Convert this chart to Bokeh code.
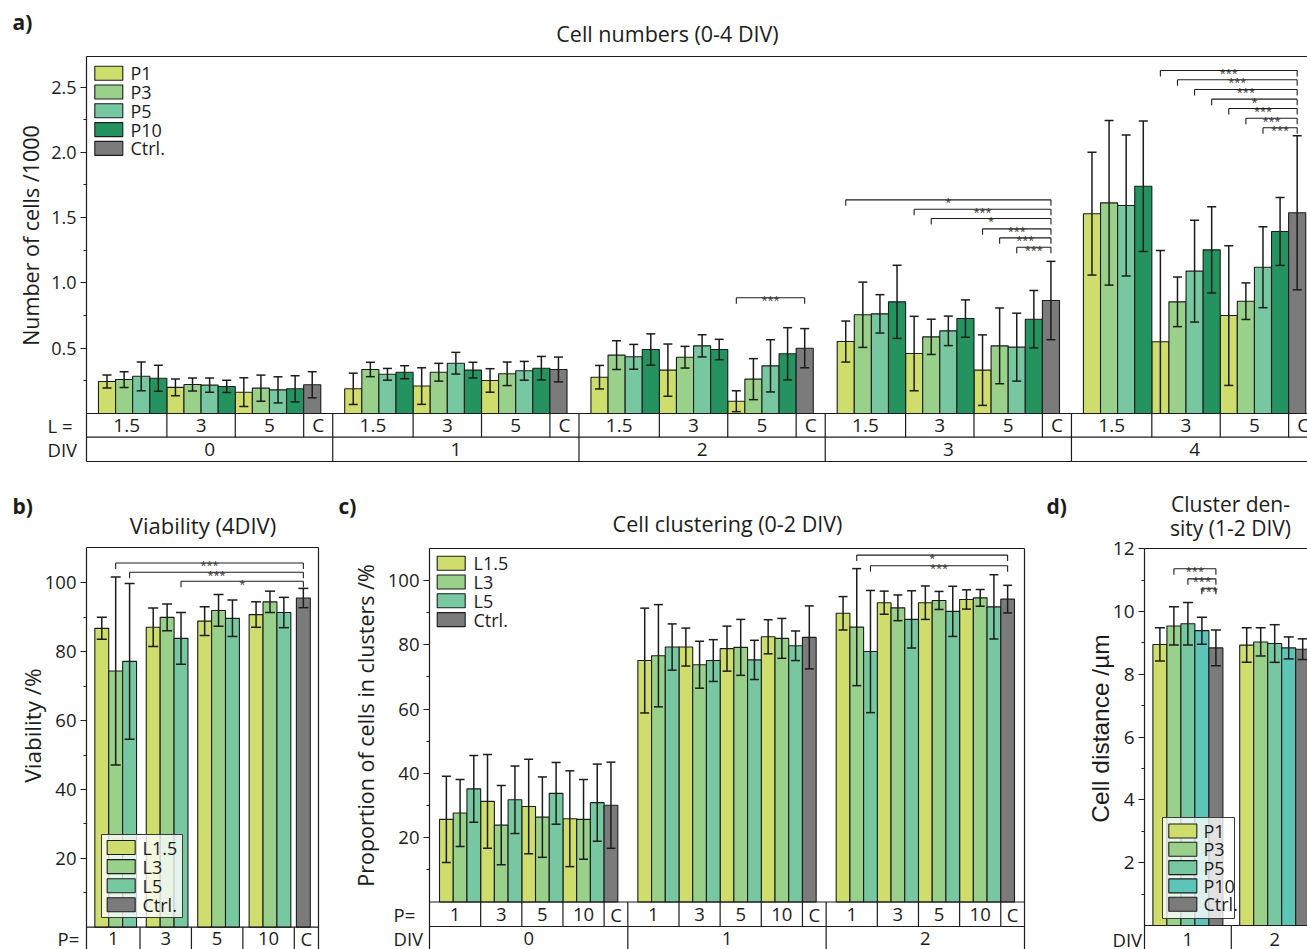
import math
from bokeh.plotting import figure
from bokeh.models import FixedTicker, PrintfTickFormatter, Label
from bokeh.layouts import column, row
from bokeh.embed import file_html
from bokeh.resources import INLINE
from bokeh.core.properties import value

# ======================= DATA =======================
# a) Cell numbers (0-4 DIV); each list: DIV 0..4, inside each DIV L = 1.5, 3, 5
A_DIV = ["0", "1", "2", "3", "4"]
A_L = ["1.5", "3", "5", "C"]
A_NAMES = ["P1", "P3", "P5", "P10", "Ctrl."]
A_P1 = [0.245, 0.200, 0.163, 0.189, 0.210, 0.253, 0.278, 0.332, 0.094, 0.551, 0.459, 0.332, 1.530, 0.549, 0.750]
A_P1_ERR = [0.050, 0.065, 0.110, 0.120, 0.140, 0.090, 0.090, 0.200, 0.080, 0.157, 0.285, 0.270, 0.470, 0.700, 0.535]
A_P3 = [0.260, 0.222, 0.194, 0.337, 0.316, 0.304, 0.447, 0.431, 0.263, 0.756, 0.587, 0.518, 1.613, 0.855, 0.860]
A_P3_ERR = [0.060, 0.050, 0.100, 0.055, 0.068, 0.090, 0.110, 0.083, 0.157, 0.250, 0.135, 0.290, 0.630, 0.190, 0.140]
A_P5 = [0.285, 0.217, 0.181, 0.300, 0.385, 0.327, 0.434, 0.518, 0.365, 0.763, 0.633, 0.508, 1.593, 1.090, 1.120]
A_P5_ERR = [0.110, 0.055, 0.100, 0.045, 0.083, 0.072, 0.095, 0.085, 0.200, 0.147, 0.113, 0.260, 0.540, 0.390, 0.310]
A_P10 = [0.270, 0.207, 0.189, 0.316, 0.332, 0.347, 0.490, 0.490, 0.457, 0.855, 0.727, 0.722, 1.740, 1.253, 1.394]
A_P10_ERR = [0.100, 0.047, 0.100, 0.050, 0.060, 0.090, 0.120, 0.078, 0.200, 0.280, 0.143, 0.220, 0.500, 0.330, 0.260]
A_CTRL = [0.220, 0.337, 0.500, 0.865, 1.537]
A_CTRL_ERR = [0.100, 0.095, 0.150, 0.300, 0.590]
# significance: (DIV index, bar index from, bar index to, level, label); bar index = 4*L + P, Ctrl = 12
A_SIG = [(2, 8, 12, 0.886, "***"),
         (3, 0, 12, 1.636, "*"), (3, 4, 12, 1.564, "***"), (3, 5, 12, 1.493, "*"),
         (3, 8, 12, 1.414, "***"), (3, 9, 12, 1.345, "***"), (3, 10, 12, 1.273, "***"),
         (4, 4, 12, 2.626, "***"), (4, 5, 12, 2.555, "***"), (4, 6, 12, 2.481, "***"),
         (4, 7, 12, 2.407, "*"), (4, 8, 12, 2.335, "***"), (4, 9, 12, 2.261, "***"),
         (4, 10, 12, 2.188, "***")]

# b) Viability (4DIV); each list: P = 1, 3, 5, 10
B_P = ["1", "3", "5", "10", "C"]
B_NAMES = ["L1.5", "L3", "L5", "Ctrl."]
B_L15 = [86.8, 87.1, 88.9, 90.8]
B_L15_ERR = [3.2, 5.6, 4.2, 3.7]
B_L3 = [74.4, 90.0, 92.0, 94.5]
B_L3_ERR = [27.3, 3.9, 4.6, 3.1]
B_L5 = [77.2, 83.9, 89.7, 91.4]
B_L5_ERR = [22.6, 7.5, 5.3, 4.4]
B_CTRL = [95.6]
B_CTRL_ERR = [2.8]
# (P group, L index, level, label) -> Ctrl
B_SIG = [(0, 1, 105.8, "***"), (0, 2, 103.1, "***"), (1, 2, 100.5, "*")]

# c) Cell clustering (0-2 DIV); each list: DIV 0..2, inside each DIV P = 1, 3, 5, 10
C_DIV = ["0", "1", "2"]
C_P = ["1", "3", "5", "10", "C"]
C_NAMES = ["L1.5", "L3", "L5", "Ctrl."]
C_L15 = [25.7, 31.3, 29.7, 25.9, 75.1, 79.3, 78.8, 82.5, 89.8, 93.1, 93.1, 94.1]
C_L15_ERR = [13.4, 14.6, 14.7, 14.9, 16.3, 5.9, 7.0, 5.3, 5.2, 3.6, 5.2, 3.0]
C_L3 = [27.7, 23.9, 26.4, 25.7, 76.6, 73.8, 79.2, 82.0, 85.5, 91.5, 93.8, 94.6]
C_L3_ERR = [10.4, 12.3, 12.5, 12.4, 15.9, 7.3, 8.7, 6.2, 18.2, 4.0, 2.8, 2.6]
C_L5 = [35.2, 31.8, 33.8, 30.9, 79.3, 75.1, 75.3, 79.7, 77.9, 87.9, 90.4, 91.8]
C_L5_ERR = [10.4, 10.5, 9.6, 12.0, 7.2, 6.5, 6.1, 4.6, 19.0, 8.9, 7.8, 10.0]
C_CTRL = [30.1, 82.3, 94.2]
C_CTRL_ERR = [13.4, 9.8, 4.3]
# (DIV, bar index, level, label) -> Ctrl ; bar index = 3*P + L
C_SIG = [(2, 1, 107.9, "*"), (2, 2, 104.6, "***")]

# d) Cluster density (1-2 DIV); each list: DIV 1, 2
D_DIV = ["1", "2"]
D_NAMES = ["P1", "P3", "P5", "P10", "Ctrl."]
D_P1 = [8.95, 8.93]
D_P1_ERR = [0.53, 0.55]
D_P3 = [9.54, 9.03]
D_P3_ERR = [0.61, 0.45]
D_P5 = [9.61, 8.98]
D_P5_ERR = [0.68, 0.60]
D_P10 = [9.39, 8.84]
D_P10_ERR = [0.43, 0.35]
D_CTRL = [8.84, 8.80]
D_CTRL_ERR = [0.57, 0.33]
D_SIG = [(0, 1, 11.36, "***"), (0, 2, 11.04, "***"), (0, 3, 10.74, "***")]

# ======================= STYLE =======================
INK = "#1c1c1c"
FONT = "Open Sans"
COL_1 = "#cfdd6d"
COL_3 = "#99d08a"
COL_5 = "#77c8a0"
COL_10 = "#24935f"
COL_10D = "#5dc5b8"
COL_C = "#7b7b7b"
LW = 1.2


class Panel:
    """A figure whose frame covers its whole canvas; page pixels are mapped to data units."""
    def __init__(self, cx0, cy0, w, h, left, zero, ppy, ppx):
        self.left, self.zero, self.ppy, self.ppx = left, zero, ppy, ppx
        self.p = figure(width=w, height=h, output_backend="svg", toolbar_location=None,
                        x_range=((cx0 - left) / ppx, (cx0 + w - left) / ppx),
                        y_range=((zero - cy0 - h) / ppy, (zero - cy0) / ppy),
                        x_axis_location=None, min_border=0, min_border_left=0,
                        min_border_right=0, min_border_top=0, min_border_bottom=0)
        p = self.p
        p.grid.visible = False
        p.outline_line_color = None
        p.background_fill_color = "white"
        p.border_fill_color = "white"

    def ax(self, px):
        return (px - self.left) / self.ppx

    def ay(self, py):
        return (self.zero - py) / self.ppy

    def yaxis(self, ticks, minor, fmt, size, top_px, bottom_px):
        a = self.p.yaxis[0]
        a.fixed_location = 0
        a.bounds = (self.ay(bottom_px), self.ay(top_px))
        a.ticker = FixedTicker(ticks=ticks, minor_ticks=minor)
        a.formatter = PrintfTickFormatter(format=fmt)
        a.axis_line_color = INK
        a.axis_line_width = LW
        a.major_tick_line_color = INK
        a.minor_tick_line_color = INK
        a.major_tick_in = 0
        a.major_tick_out = 6
        a.minor_tick_in = 0
        a.minor_tick_out = 3
        a.major_label_text_font = FONT
        a.major_label_text_font_size = size
        a.major_label_text_color = INK
        a.major_label_standoff = 4

    def hseg(self, y, x0, x1):
        self.p.segment(x0=[x0], y0=[y], x1=[x1], y1=[y], line_color=INK, line_width=LW)

    def vsegs(self, xs, y0, y1):
        self.p.segment(x0=xs, y0=[y0] * len(xs), x1=xs, y1=[y1] * len(xs),
                       line_color=INK, line_width=LW)

    def label(self, px, py, text, size, align="center", angle=0.0, bold=False, font=FONT):
        self.p.add_layout(Label(x=self.ax(px), y=self.ay(py), text=text, text_font=font,
                                text_font_size=size, text_color=INK,
                                text_font_style="bold" if bold else "normal",
                                text_align=align, text_baseline="middle", angle=angle))

    def texts(self, xs, ys, labels, size):
        self.p.text(x=xs, y=ys, text=labels, text_font=value(FONT), text_font_size=size,
                    text_color=INK, text_align="center", text_baseline="middle")

    def legend(self, px, py, row_h, names, colors, size, text_px, box=None):
        ys = [self.ay(py + 7 + i * row_h) for i in range(len(names))]
        if box is not None:
            l, r, t, b = box
            self.p.quad(left=[self.ax(l)], right=[self.ax(r)], top=[self.ay(t)], bottom=[self.ay(b)],
                        fill_color="white", fill_alpha=0.78, line_color="#3a3a3a", line_width=1)
        self.p.rect(x=[self.ax(px + 14)] * len(names), y=ys, width=28, height=14,
                    width_units="screen", height_units="screen", fill_color=colors,
                    line_color=INK, line_width=1.1)
        self.p.text(x=[self.ax(text_px)] * len(names), y=ys, text=names, text_font=value(FONT),
                    text_font_size=size, text_color=INK, text_align="left",
                    text_baseline="middle")


def draw_bars(P, series, cap):
    for xs, vals, errs, col in series:
        P.p.vbar(x=xs, top=vals, bottom=0, width=1.0, fill_color=col,
                 line_color=INK, line_width=1.1)
    for xs, vals, errs, col in series:
        lo = [max(v - e, 0.0) for v, e in zip(vals, errs)]
        hi = [v + e for v, e in zip(vals, errs)]
        P.p.segment(x0=xs, y0=lo, x1=xs, y1=hi, line_color=INK, line_width=1.5)
        P.p.scatter(x=xs, y=hi, marker="dash", size=cap, line_color=INK, line_width=1.5)
        lx = [x for x, v, e in zip(xs, vals, errs) if v - e >= 0]
        ly = [v - e for v, e in zip(vals, errs) if v - e >= 0]
        P.p.scatter(x=lx, y=ly, marker="dash", size=cap, line_color=INK, line_width=1.5)


def draw_sig(P, spans, drop_px=6, size="11px"):
    drop = drop_px / P.ppy
    x0, y0, x1, y1, tx, ty, tt = [], [], [], [], [], [], []
    for xa, xb, lev, lab in spans:
        x0 += [xa, xa, xb]
        y0 += [lev, lev - drop, lev - drop]
        x1 += [xb, xa, xb]
        y1 += [lev, lev, lev]
        tx.append((xa + xb) / 2)
        ty.append(lev)
        tt.append(lab)
    P.p.segment(x0=x0, y0=y0, x1=x1, y1=y1, line_color=INK, line_width=1.1)
    P.p.text(x=tx, y=ty, text=tt, text_font=value(FONT), text_font_size=size,
             text_color="#333333", text_align="center", text_baseline="alphabetic",
             y_offset=2)


# ======================= PANEL a =======================
A = Panel(0, 0, 1307, 485, left=86, zero=413, ppy=130.6, ppx=17.1)
A_BLOCK, A_PAD = 14.4, 0.7
A_RIGHT = A.ax(1307)


def a_x(d, i):
    return A_BLOCK * d + A_PAD + i + 0.5


A.yaxis([0.5, 1.0, 1.5, 2.0, 2.5], [0.25, 0.75, 1.25, 1.75, 2.25], "%.1f", "18px", 56, 461)
a_series = []
for s, (vals, errs, col) in enumerate([(A_P1, A_P1_ERR, COL_1), (A_P3, A_P3_ERR, COL_3),
                                       (A_P5, A_P5_ERR, COL_5), (A_P10, A_P10_ERR, COL_10)]):
    xs = [a_x(d, 4 * l + s) for d in range(len(A_DIV)) for l in range(3)]
    a_series.append((xs, vals, errs, col))
a_series.append(([a_x(d, 12) for d in range(len(A_DIV))], A_CTRL, A_CTRL_ERR, COL_C))
draw_bars(A, a_series, 9)
draw_sig(A, [(a_x(d, i), a_x(d, j), lev, lab) for d, i, j, lev, lab in A_SIG])

a_row, a_bot = A.ay(436.7), A.ay(461)
A.hseg(A.ay(56), 0, A_RIGHT)
A.hseg(0, 0, A_RIGHT)
A.hseg(a_row, 0, A_RIGHT)
A.hseg(a_bot, 0, A_RIGHT)
a_edges = [0, A_PAD + 4, A_PAD + 8, A_PAD + 12, A_BLOCK]
A.vsegs([A_BLOCK * d + e for d in range(len(A_DIV)) for e in a_edges[1:4]], 0, a_row)
A.vsegs([A_BLOCK * d for d in range(1, len(A_DIV))], 0, a_bot)
A.texts([A_BLOCK * d + (a_edges[j] + a_edges[j + 1]) / 2 for d in range(len(A_DIV)) for j in range(4)],
        [a_row / 2] * (4 * len(A_DIV)), [A_L[j] for d in range(len(A_DIV)) for j in range(4)], "19px")
A.texts([A_BLOCK * (d + 0.5) for d in range(len(A_DIV))], [(a_row + a_bot) / 2] * len(A_DIV),
        A_DIV, "19px")
A.label(47, 424.7, "L =", "18.5px", align="left")
A.label(47, 449, "DIV", "18.5px", align="left")
A.label(12, 21, "a)", "21px", align="left", bold=True)
A.label(667, 33, "Cell numbers (0-4 DIV)", "21.5px")
A.label(30, 235, "Number of cells /1000", "21.5px", angle=math.pi / 2)
A.legend(94.3, 65.7, 18.8, A_NAMES, [COL_1, COL_3, COL_5, COL_10, COL_C], "18px", 130)

# ======================= PANEL b =======================
B = Panel(0, 485, 330, 464, left=86, zero=926.7, ppy=3.443, ppx=13.9)
B_PAD, B_STEP, B_CX = 0.6, 3.7, 15.6
B_RIGHT = B.ax(318)


def b_x(g, l):
    return B_PAD + B_STEP * g + l + 0.5


B.yaxis([20, 40, 60, 80, 100], [10, 30, 50, 70, 90], "%d", "18.5px", 547, 949)
b_series = []
for l, (vals, errs, col) in enumerate([(B_L15, B_L15_ERR, COL_1), (B_L3, B_L3_ERR, COL_3),
                                       (B_L5, B_L5_ERR, COL_5)]):
    b_series.append(([b_x(g, l) for g in range(4)], vals, errs, col))
b_series.append(([B_CX], B_CTRL, B_CTRL_ERR, COL_C))
draw_bars(B, b_series, 10)
draw_sig(B, [(b_x(g, l), B_CX, lev, lab) for g, l, lev, lab in B_SIG])
b_bot = B.ay(949)
B.hseg(B.ay(547), 0, B_RIGHT)
B.hseg(0, 0, B_RIGHT)
B.vsegs([B_RIGHT], B.ay(547), b_bot)
b_edges = [0] + [B_PAD + B_STEP * g + 3.25 for g in range(4)] + [B_RIGHT]
B.vsegs(b_edges[1:5], 0, b_bot)
B.texts([(b_edges[j] + b_edges[j + 1]) / 2 for j in range(5)], [B.ay(938)] * 5, B_P, "18.5px")
B.label(57, 938, "P=", "18.5px", align="left")
B.label(12, 505, "b)", "21px", align="left", bold=True)
B.label(202.5, 524, "Viability (4DIV)", "22px")
B.label(32, 725, "Viability /%", "22.5px", angle=math.pi / 2)
B.legend(106.7, 840, 19.1, B_NAMES, [COL_1, COL_3, COL_5, COL_C], "18px", 142,
         box=(101, 182, 834, 917))

# ======================= PANEL c =======================
C = Panel(330, 485, 706, 464, left=429, zero=901.5, ppy=3.215, ppx=595 / 43.38)
C_BLOCK, C_PAD = 14.46, 0.73
C_RIGHT = C.ax(1024)


def c_x(d, i):
    return C_BLOCK * d + C_PAD + i + 0.5


C.yaxis([20, 40, 60, 80, 100], [10, 30, 50, 70, 90], "%d", "18.5px", 548, 949)
c_series = []
for l, (vals, errs, col) in enumerate([(C_L15, C_L15_ERR, COL_1), (C_L3, C_L3_ERR, COL_3),
                                       (C_L5, C_L5_ERR, COL_5)]):
    c_series.append(([c_x(d, 3 * g + l) for d in range(len(C_DIV)) for g in range(4)], vals, errs, col))
c_series.append(([c_x(d, 12) for d in range(len(C_DIV))], C_CTRL, C_CTRL_ERR, COL_C))
draw_bars(C, c_series, 9)
draw_sig(C, [(c_x(d, i), c_x(d, 12), lev, lab) for d, i, lev, lab in C_SIG])
c_row, c_bot = C.ay(926), C.ay(949)
C.hseg(C.ay(548), 0, C_RIGHT)
C.hseg(0, 0, C_RIGHT)
C.hseg(c_row, 0, C_RIGHT)
C.vsegs([C_RIGHT], C.ay(548), c_bot)
c_edges = [0, C_PAD + 3, C_PAD + 6, C_PAD + 9, C_PAD + 12, C_BLOCK]
C.vsegs([C_BLOCK * d + e for d in range(len(C_DIV)) for e in c_edges[1:5]], 0, c_row)
C.vsegs([C_BLOCK * d for d in range(1, len(C_DIV))], 0, c_bot)
C.texts([C_BLOCK * d + (c_edges[j] + c_edges[j + 1]) / 2 for d in range(len(C_DIV)) for j in range(5)],
        [c_row / 2] * (5 * len(C_DIV)), [C_P[j] for d in range(len(C_DIV)) for j in range(5)], "18.5px")
C.texts([C_BLOCK * (d + 0.5) for d in range(len(C_DIV))], [C.ay(937.5)] * len(C_DIV), C_DIV, "18.5px")
C.label(393, 913.5, "P=", "18.5px", align="left")
C.label(393, 937.5, "DIV", "18.5px", align="left")
C.label(338, 505, "c)", "21px", align="left", bold=True)
C.label(727, 523, "Cell clustering (0-2 DIV)", "21.5px")
C.label(365, 725, "Proportion of cells in clusters /%", "21.5px", angle=math.pi / 2)
C.legend(436.7, 555.7, 18.8, C_NAMES, [COL_1, COL_3, COL_5, COL_C], "18px", 473)

# ======================= PANEL d =======================
D = Panel(1036, 485, 271, 464, left=1144, zero=925, ppy=31.4, ppx=14)
D_BLOCK, D_PAD = 6.2, 0.6
D_RIGHT = D.ax(1307)


def d_x(d, s):
    return D_BLOCK * d + D_PAD + s + 0.5


D.yaxis([2, 4, 6, 8, 10, 12], [1, 3, 5, 7, 9, 11], "%d", "19px", 548, 949)
d_series = []
for s, (vals, errs, col) in enumerate([(D_P1, D_P1_ERR, COL_1), (D_P3, D_P3_ERR, COL_3),
                                       (D_P5, D_P5_ERR, COL_5), (D_P10, D_P10_ERR, COL_10D),
                                       (D_CTRL, D_CTRL_ERR, COL_C)]):
    d_series.append(([d_x(d, s) for d in range(len(D_DIV))], vals, errs, col))
draw_bars(D, d_series, 10)
draw_sig(D, [(d_x(d, s), d_x(d, 4), lev, lab) for d, s, lev, lab in D_SIG])
d_bot = D.ay(949)
D.hseg(D.ay(548), 0, D_RIGHT)
D.hseg(0, 0, D_RIGHT)
D.vsegs([D_BLOCK * d for d in range(1, len(D_DIV))], 0, d_bot)
D.texts([D_BLOCK * (d + 0.5) for d in range(len(D_DIV))], [D.ay(938.5)] * len(D_DIV), D_DIV, "18.5px")
D.label(1112, 938.5, "DIV", "18.5px", align="left")
D.label(1046, 505, "d)", "21px", align="left", bold=True)
D.label(1230, 503, "Cluster den-", "21px")
D.label(1230, 527, "sity (1-2 DIV)", "21px")
D.label(1100, 728, "Cell distance /\u00b5m", "24.5px", angle=math.pi / 2, font="Liberation Sans")
D.legend(1168.3, 823.5, 18.3, D_NAMES, [COL_1, COL_3, COL_5, COL_10D, COL_C], "18px", 1203,
         box=(1162, 1234, 817, 918))

layout = column(A.p, row(B.p, C.p, D.p))
open("out.html", "w").write(file_html(layout, INLINE))
